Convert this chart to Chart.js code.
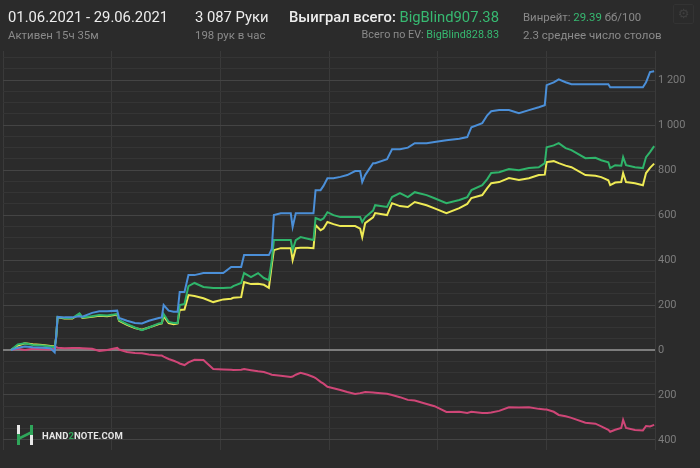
<!DOCTYPE html>
<html>
<head>
<meta charset="utf-8">
<script src="https://cdn.jsdelivr.net/npm/chart.js@4/dist/chart.umd.min.js"></script>
<style>
  html, body { margin: 0; padding: 0; background: #2b2b2b; }
  #wrap { position: relative; width: 700px; height: 468px; background: #2b2b2b; overflow: hidden; font-family: Roboto, "Noto Sans", sans-serif; }
  #graph { position: absolute; left: 0; top: 0; }
  .t { position: absolute; white-space: nowrap; }
  .big { font-size: 14.8px; color: #ededed; top: 8px; }
  .small { font-size: 11.4px; color: #8a8a8a; top: 28px; }
  .g { color: #37b971; }
  .logo { position: absolute; left: 15px; top: 424px; display: flex; align-items: center; }
  .logo span { font-size: 9.5px; font-weight: bold; color: #e6e6e6; margin-left: 7px; letter-spacing: 0.1px; }
  .gear { position: absolute; left: 673px; top: 4px; width: 19px; height: 18px; border: 1px solid #333333; border-radius: 2px; color: #3f3f3f; font-size: 13px; line-height: 18px; text-align: center; font-family: "DejaVu Sans", sans-serif; }
</style>
</head>
<body>
<div id="wrap">
  <canvas id="graph" width="700" height="468"></canvas>

  <div class="t big" style="left:8px;">01.06.2021 - 29.06.2021</div>
  <div class="t small" style="left:8px;">Активен 15ч 35м</div>

  <div class="t big" style="left:195px;">3 087 Руки</div>
  <div class="t small" style="left:195px;">198 рук в час</div>

  <div class="t big" style="right:201px;"><span style="font-weight:500;">Выиграл всего:</span> <span class="g">BigBlind907.38</span></div>
  <div class="t small" style="right:201px; font-size:10.8px;">Всего по EV: <span class="g">BigBlind828.83</span></div>

  <div class="t small" style="left:523px; top:10px;">Винрейт: <span class="g">29.39</span> бб/100</div>
  <div class="t small" style="left:523px; top:28px; font-size:11.5px;">2.3 среднее число столов</div>

  <div class="gear">⚙</div>

  <div class="logo">
    <svg width="20" height="22" viewBox="0 0 20 22">
      <rect x="2" y="1" width="3" height="9" fill="#e8e8e8"/>
      <rect x="2" y="10" width="3" height="11" fill="#2fa55a"/>
      <polygon points="4,13 16,7 16,10 4,16" fill="#2fa55a"/>
      <rect x="15" y="1" width="3" height="10" fill="#2fa55a"/>
      <rect x="15" y="11" width="3" height="10" fill="#e8e8e8"/>
    </svg>
    <span>HAND<span style="color:#2fa55a;margin:0;font-size:9.5px;">2</span>NOTE.COM</span>
  </div>
</div>

<script>
document.addEventListener("DOMContentLoaded", function () {

    // раздачи (ось X)
    const hands = [
        0, 33, 67, 105, 152, 190, 210, 217, 224, 257, 295, 329, 343, 390, 424, 462, 510, 519, 557, 595,
        629, 662, 710, 724, 733, 757, 781, 800, 810, 833, 852, 881, 924, 971, 1019, 1057, 1067, 1105, 1119, 1152,
        1186, 1214, 1238, 1252, 1262, 1295, 1343, 1352, 1367, 1390, 1424, 1452, 1462, 1486, 1500, 1519, 1548, 1581, 1614, 1652,
        1676, 1686, 1700, 1738, 1748, 1805, 1829, 1867, 1905, 1938, 1995, 2033, 2090, 2152, 2190, 2210, 2262, 2286, 2305, 2343,
        2390, 2438, 2486, 2533, 2562, 2571, 2605, 2629, 2662, 2690, 2757, 2805, 2833, 2867, 2876, 2900, 2929, 2938, 2952, 2995,
        3033, 3048, 3067, 3087
    ];

    // синяя — выигрыш на вскрытии
    const showdown = [
        0, 10, 15, 12, 10, 8, -10, 60, 147, 145, 145, 150, 148, 165, 172, 172, 175, 142, 130, 120,
        118, 130, 142, 145, 200, 175, 170, 170, 258, 258, 333, 333, 342, 342, 342, 369, 369, 369, 422, 422,
        422, 422, 422, 450, 600, 608, 608, 547, 608, 608, 608, 608, 711, 711, 730, 764, 764, 770, 778, 796,
        796, 747, 778, 831, 831, 849, 893, 893, 900, 920, 920, 925, 933, 940, 947, 991, 1009, 1044, 1062, 1067,
        1067, 1053, 1067, 1080, 1089, 1178, 1190, 1204, 1191, 1182, 1182, 1182, 1182, 1182, 1169, 1169, 1169, 1169, 1169, 1169,
        1169, 1191, 1236, 1240
    ];

    // зелёная — выиграл всего
    const totalWon = [
        0, 25, 30, 22, 20, 15, 12, 55, 147, 142, 142, 163, 145, 150, 155, 153, 160, 133, 115, 100,
        88, 100, 118, 120, 160, 125, 120, 120, 200, 205, 284, 298, 280, 276, 276, 278, 284, 298, 342, 324,
        342, 320, 311, 400, 489, 489, 489, 444, 489, 502, 495, 489, 587, 578, 585, 613, 600, 591, 591, 591,
        591, 569, 590, 620, 644, 636, 680, 698, 680, 702, 689, 675, 653, 667, 680, 711, 733, 760, 787, 791,
        805, 800, 809, 813, 831, 902, 910, 920, 898, 889, 853, 855, 844, 835, 809, 822, 820, 858, 822, 813,
        809, 858, 880, 907
    ];

    // жёлтая — всего по EV
    const allInEV = [
        0, 20, 30, 25, 22, 18, 15, 55, 145, 140, 140, 160, 143, 148, 152, 150, 158, 130, 112, 98,
        90, 100, 115, 118, 150, 120, 115, 118, 178, 180, 244, 240, 230, 213, 225, 228, 232, 235, 302, 293,
        295, 290, 276, 380, 444, 453, 453, 400, 453, 455, 455, 453, 556, 533, 540, 569, 560, 551, 551, 551,
        540, 502, 564, 590, 609, 600, 653, 640, 636, 658, 644, 630, 609, 631, 650, 676, 689, 720, 742, 747,
        765, 756, 764, 778, 780, 836, 840, 831, 820, 813, 778, 775, 769, 755, 733, 745, 747, 787, 747, 742,
        733, 787, 810, 829
    ];

    // красная — выигрыш без вскрытия
    const nonShowdown = [
        0, 5, 0, 5, 3, 2, 5, 13, 10, 8, 9, 9, 8, 5, -4, 0, 9, 2, -9, -13,
        -15, -20, -25, -25, -30, -40, -48, -55, -60, -67, -55, -44, -45, -85, -87, -88, -89, -88, -85, -90,
        -95, -98, -105, -110, -111, -115, -120, -118, -110, -102, -110, -120, -125, -142, -150, -164, -170, -178, -187, -196,
        -192, -190, -187, -189, -190, -195, -200, -210, -222, -225, -240, -250, -276, -275, -280, -275, -280, -280, -278, -271,
        -255, -256, -255, -262, -265, -265, -275, -289, -295, -302, -324, -328, -340, -355, -364, -355, -347, -311, -347, -356,
        -358, -338, -340, -333
    ];

    function pts(values) {
        return hands.map(function (h, i) { return { x: h, y: values[i] }; });
    }

    function fmt(v) {
        return String(Math.abs(v)).replace(/\B(?=(\d{3})+(?!\d))/g, " ");
    }

    Chart.defaults.font.family = "Roboto, 'Noto Sans', sans-serif";

    const line = { borderWidth: 2, pointRadius: 0, tension: 0, fill: false };

    const ctx = document.getElementById("graph").getContext("2d");

    new Chart(ctx, {
        type: "line",
        data: {
            datasets: [
                Object.assign({ data: pts(showdown), borderColor: "#4b8fd8" }, line),
                Object.assign({ data: pts(totalWon), borderColor: "#2fb46a" }, line),
                Object.assign({ data: pts(allInEV), borderColor: "#eeea55" }, line),
                Object.assign({ data: pts(nonShowdown), borderColor: "#cf4677" }, line)
            ]
        },
        options: {
            responsive: false,
            animation: false,
            layout: { padding: { top: 51, left: 0, right: 0, bottom: 0 } },
            plugins: { legend: { display: false }, tooltip: { enabled: false } },
            scales: {
                x: {
                    type: "linear",
                    min: -38,
                    max: 3091,
                    border: { display: false },
                    grid: { color: "#3a3a3a", drawTicks: false },
                    afterFit: function (s) { s.height = 18; },
                    ticks: {
                        stepSize: 500,
                        includeBounds: false,
                        padding: 3,
                        color: "#7c7c7c",
                        font: { size: 11 },
                        callback: function (v) { return v % 500 === 0 ? fmt(v) : ""; }
                    }
                },
                y: {
                    position: "right",
                    min: -445,
                    max: 1330,
                    border: { display: false },
                    afterFit: function (s) { s.width = 45; },
                    grid: {
                        drawTicks: false,
                        color: function (c) {
                            const v = c.tick ? c.tick.value : 1;
                            if (v === 0) return "#7d7d7d";
                            return v % 200 === 0 ? "#444444" : "#353535";
                        },
                        lineWidth: function (c) {
                            return c.tick && c.tick.value === 0 ? 2 : 1;
                        }
                    },
                    ticks: {
                        stepSize: 50,
                        includeBounds: false,
                        autoSkip: false,
                        padding: 3,
                        color: "#7c7c7c",
                        font: { size: 11 },
                        callback: function (v) { return v % 200 === 0 ? fmt(v) : ""; }
                    }
                }
            }
        }
    });
});
</script>
</body>
</html>
